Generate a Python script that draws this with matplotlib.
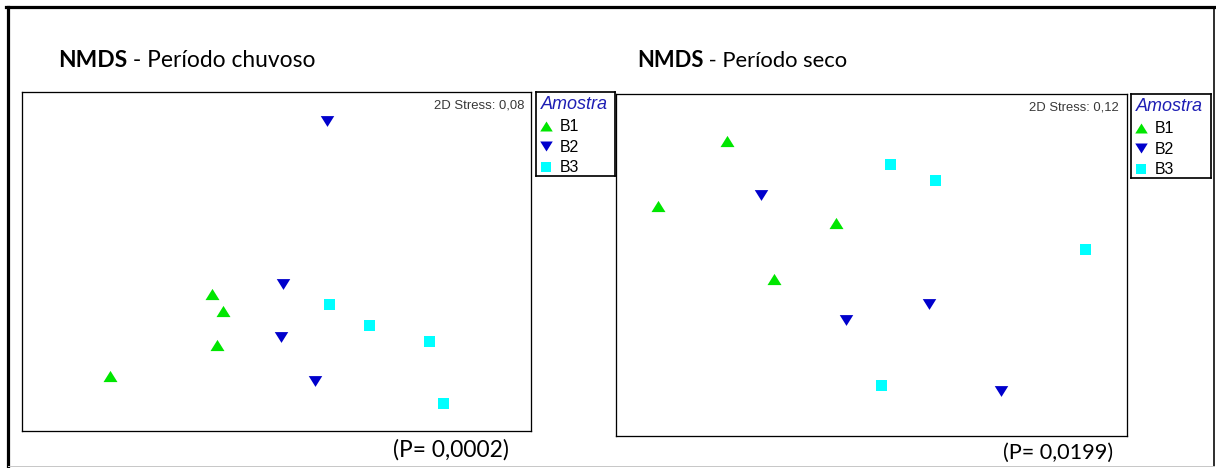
import matplotlib
matplotlib.use("Agg")
import matplotlib.pyplot as plt
from matplotlib.lines import Line2D

# ---------------- data (NMDS scores; axes span 0..100) -------------
groups = ["B1", "B2", "B3"]

chuvoso_B1_x = [37.3, 39.4, 38.4, 17.3]
chuvoso_B1_y = [40.3, 35.3, 25.5, 16.1]
chuvoso_B2_x = [59.9, 51.3, 50.8, 57.5]
chuvoso_B2_y = [91.4, 43.3, 27.7, 14.7]
chuvoso_B3_x = [60.3, 68.2, 80.0, 82.7]
chuvoso_B3_y = [37.5, 31.2, 26.6, 8.2]

seco_B1_x = [21.7, 8.2, 43.0, 31.0]
seco_B1_y = [86.3, 67.2, 62.3, 45.8]
seco_B2_x = [28.3, 45.0, 61.3, 75.4]
seco_B2_y = [70.5, 33.9, 38.5, 13.2]
seco_B3_x = [53.7, 62.4, 91.8, 51.8]
seco_B3_y = [79.5, 74.9, 54.7, 14.9]

titles = ["Período chuvoso", "Período seco"]
stress_labels = ["2D Stress: 0,08", "2D Stress: 0,12"]
p_labels = ["(P= 0,0002)", "(P= 0,0199)"]
legend_title = "Amostra"

# ---------------- styling ----------------
W, H, DPI = 1216, 468, 100
colors = {"B1": "#00E600", "B2": "#0000CC", "B3": "#00FFFF"}
TRI_UP = [(-1, -0.8), (1, -0.8), (0, 0.8), (-1, -0.8)]
TRI_DN = [(-1, 0.8), (1, 0.8), (0, -0.8), (-1, 0.8)]
markers = {"B1": TRI_UP, "B2": TRI_DN, "B3": "s"}
msize = {"B1": 14.0 * 0.72, "B2": 13.5 * 0.72, "B3": 11.0 * 0.72}
leg_msize = {"B1": 12.5 * 0.72, "B2": 12.5 * 0.72, "B3": 9.5 * 0.72}

TITLE_FONT = ["Lato", "DejaVu Sans"]
ARIAL = ["Liberation Sans", "DejaVu Sans"]
NARROW = ["Liberation Sans Narrow", "Liberation Sans", "DejaVu Sans"]

fig = plt.figure(figsize=(W / DPI, H / DPI), dpi=DPI)
fig.patch.set_facecolor("white")
renderer = fig.canvas.get_renderer()


def fx(px):
    return px / W


def fy(py):
    return 1 - py / H


def axes_px(x0, y0, x1, y1):
    return fig.add_axes([fx(x0), fy(y1), (x1 - x0) / W, (y1 - y0) / H])


def fit_width(texts, target):
    tot = sum(t.get_window_extent(renderer).width for t in texts)
    for t in texts:
        t.set_fontsize(t.get_fontsize() * target / tot)


def box_style(ax, lw=1.3):
    ax.set_xticks([])
    ax.set_yticks([])
    for s in ax.spines.values():
        s.set_linewidth(lw * 0.72)
        s.set_color("black")


panels = [
    dict(data={"B1": (chuvoso_B1_x, chuvoso_B1_y), "B2": (chuvoso_B2_x, chuvoso_B2_y),
               "B3": (chuvoso_B3_x, chuvoso_B3_y)},
         ax=(22, 92, 531, 431), leg=(536, 92, 615, 176),
         title_x=(58, 317), title_base=67,
         stress=(524, 108.5), p=(393, 510, 457)),
    dict(data={"B1": (seco_B1_x, seco_B1_y), "B2": (seco_B2_x, seco_B2_y),
               "B3": (seco_B3_x, seco_B3_y)},
         ax=(616, 94, 1127, 436), leg=(1131, 94, 1211, 178),
         title_x=(637, 849), title_base=67,
         stress=(1119, 111), p=(1003, 1114, 459)),
]

for i, pn in enumerate(panels):
    ax = axes_px(*pn["ax"])
    box_style(ax)
    ax.set_xlim(0, 100)
    ax.set_ylim(0, 100)
    for g in groups:
        xs, ys = pn["data"][g]
        ax.plot(xs, ys, ls="none", marker=markers[g], ms=msize[g],
                mfc=colors[g], mec="none", mew=0)

    # stress label
    sx, sy = pn["stress"]
    st = fig.text(fx(sx), fy(sy), stress_labels[i], ha="right", va="baseline",
                  family=NARROW, fontsize=8, color="#383838")
    fit_width([st], 90)

    # title: bold "NMDS" + regular rest
    tx0, tx1 = pn["title_x"]
    t1 = fig.text(fx(tx0), fy(pn["title_base"]), "NMDS", weight="bold",
                  family=TITLE_FONT, fontsize=14, va="baseline", ha="left")
    t2 = fig.text(fx(tx0), fy(pn["title_base"]), " - " + titles[i],
                  family=TITLE_FONT, fontsize=14, va="baseline", ha="left")
    fit_width([t1, t2], tx1 - tx0)
    w1 = t1.get_window_extent(renderer).width
    t2.set_x(fx(tx0 + w1))

    # P value
    px0, px1, pb = pn["p"]
    pt = fig.text(fx(px0), fy(pb), p_labels[i], family=TITLE_FONT, fontsize=14,
                  va="baseline", ha="left")
    fit_width([pt], px1 - px0)

    # legend box
    lx0, ly0, lx1, ly1 = pn["leg"]
    lg = axes_px(lx0, ly0, lx1, ly1)
    box_style(lg, lw=1.7)
    lg.set_xlim(0, lx1 - lx0)
    lg.set_ylim(ly1 - ly0, 0)
    at = lg.text(5, 17, legend_title, style="italic", color="#1E1EB4",
                 family=ARIAL, fontsize=12, va="baseline", ha="left")
    fit_width([at], 67)
    for k, g in enumerate(groups):
        yy = 33.5 + k * 20.5
        lg.plot([10], [yy], ls="none", marker=markers[g], ms=leg_msize[g],
                mfc=colors[g], mec="none", mew=0)
        lg.text(23.5, yy + 5.6, g, family=ARIAL, fontsize=11.4, va="baseline",
                ha="left", color="black")

# outer frame
def fline(x0, y0, x1, y1, lw, color):
    fig.add_artist(Line2D([fx(x0), fx(x1)], [fy(y0), fy(y1)], transform=fig.transFigure,
                          lw=lw * 0.72, color=color, solid_capstyle="projecting"))

fline(7.5, 6.5, 7.5, 468, 3.2, "black")
fline(6, 6.5, 1214, 6.5, 3.2, "black")
fline(1214, 6.5, 1214, 466, 1.6, "black")
fline(7.5, 466, 1214, 466, 1.0, "#c8c8c8")

fig.savefig("out.png", dpi=DPI, facecolor="white")
